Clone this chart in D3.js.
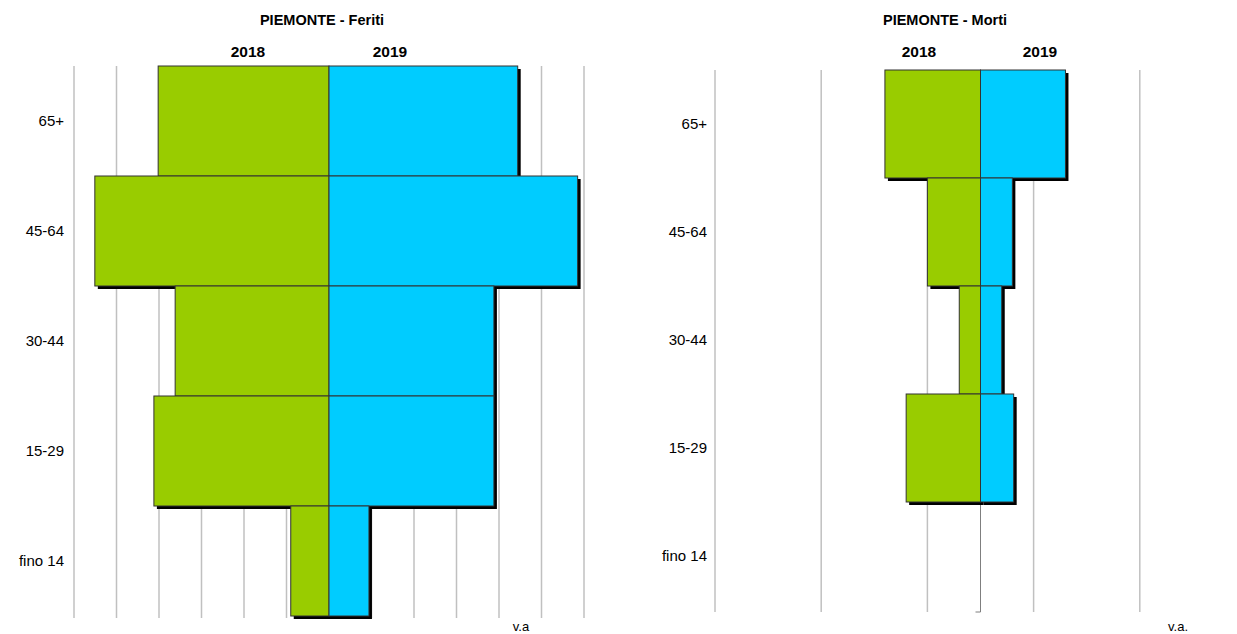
<!DOCTYPE html>
<html>
<head>
<meta charset="utf-8">
<script src="https://cdn.jsdelivr.net/npm/d3@7"></script>
<style>
  html, body { margin: 0; padding: 0; background: #fff; }
  svg { display: block; font-family: "Liberation Sans", Arial, sans-serif; }
</style>
</head>
<body>
<svg id="chart" width="1237" height="634"></svg>
<script>
// ---- data ----
const categories = ["65+", "45-64", "30-44", "15-29", "fino 14"];
const years = ["2018", "2019"];
const feriti2018 = [4020, 5510, 3620, 4120, 900];
const feriti2019 = [4440, 5850, 3880, 3880, 940];
const morti2018 = [72, 40, 16, 56, 0];
const morti2019 = [64, 24, 16, 25, 0];
const feritiGrid = [-6000, -5000, -4000, -3000, -2000, -1000, 0, 1000, 2000, 3000, 4000, 5000, 6000];
const mortiGrid = [-200, -120, -40, 40, 120, 200];

const svg = d3.select("#chart");
const GREEN = "#99CC00", BLUE = "#00CCFF";

function panel(cfg) {
  const g = svg.append("g");
  const x = d3.scaleLinear().domain(cfg.domain).range(cfg.xRange);
  const y = d3.scaleBand().domain(categories).range(cfg.yRange).padding(0);

  // grid lines
  g.selectAll("line.grid").data(cfg.grid).join("line")
    .attr("class", "grid")
    .attr("x1", d => x(d)).attr("x2", d => x(d))
    .attr("y1", cfg.yRange[0]).attr("y2", cfg.yRange[1] + 2)
    .attr("stroke", "#c0c0c0").attr("stroke-width", 1.5);

  // center (category) axis
  g.append("line")
    .attr("x1", x(0)).attr("x2", x(0))
    .attr("y1", cfg.yRange[0]).attr("y2", cfg.yRange[1] + 2)
    .attr("stroke", "#7f7f7f").attr("stroke-width", 1);
  g.append("line")
    .attr("x1", x(0) - 5).attr("x2", x(0))
    .attr("y1", cfg.yRange[1] + 2).attr("y2", cfg.yRange[1] + 2)
    .attr("stroke", "#7f7f7f").attr("stroke-width", 1);

  // bars, top to bottom, each with its shadow
  categories.forEach((c, i) => {
    const rows = [
      { v: cfg.left[i], side: -1, color: GREEN },
      { v: cfg.right[i], side: 1, color: BLUE }
    ].filter(r => r.v > 0);
    const x0 = r => r.side < 0 ? x(-r.v) : x(0);
    const w = r => Math.abs(x(r.v) - x(0));
    rows.forEach(r => {
      g.append("rect")
        .attr("x", x0(r) + 3).attr("y", y(c) + 3)
        .attr("width", w(r)).attr("height", y.bandwidth())
        .attr("fill", "#000");
    });
    rows.forEach(r => {
      g.append("rect")
        .attr("x", x0(r)).attr("y", y(c))
        .attr("width", w(r)).attr("height", y.bandwidth())
        .attr("fill", r.color).attr("stroke", "#333").attr("stroke-width", 1);
    });
  });

  // category labels
  g.selectAll("text.cat").data(categories).join("text")
    .attr("class", "cat")
    .attr("x", cfg.labelX)
    .attr("y", d => y(d) + y.bandwidth() / 2)
    .attr("dy", "0.35em")
    .attr("text-anchor", "end")
    .attr("font-size", 15)
    .attr("fill", "#000")
    .text(d => d);

  // title
  g.append("text")
    .attr("x", cfg.titleX).attr("y", cfg.titleY)
    .attr("text-anchor", "middle").attr("font-size", 14.5).attr("font-weight", "bold")
    .text(cfg.title);
  // year headers
  g.selectAll("text.yr").data(years).join("text")
    .attr("class", "yr")
    .attr("x", (d, i) => cfg.yearX[i]).attr("y", cfg.yearY)
    .attr("text-anchor", "middle").attr("font-size", 15.5).attr("font-weight", "bold")
    .text(d => d);
  // unit label
  g.append("text")
    .attr("x", cfg.unitX).attr("y", 631)
    .attr("text-anchor", "middle").attr("font-size", 13)
    .text(cfg.unit);
}

panel({
  domain: [-6000, 6000], xRange: [74, 584], yRange: [66, 616],
  grid: feritiGrid, left: feriti2018, right: feriti2019,
  labelX: 64, title: "PIEMONTE - Feriti", titleX: 322, titleY: 25,
  yearX: [248, 390], yearY: 57, unit: "v.a", unitX: 521
});
panel({
  domain: [-200, 200], xRange: [715, 1246], yRange: [70, 610],
  grid: mortiGrid, left: morti2018, right: morti2019,
  labelX: 707, title: "PIEMONTE - Morti", titleX: 945, titleY: 25,
  yearX: [919, 1040], yearY: 57, unit: "v.a.", unitX: 1178
});
</script>
</body>
</html>
